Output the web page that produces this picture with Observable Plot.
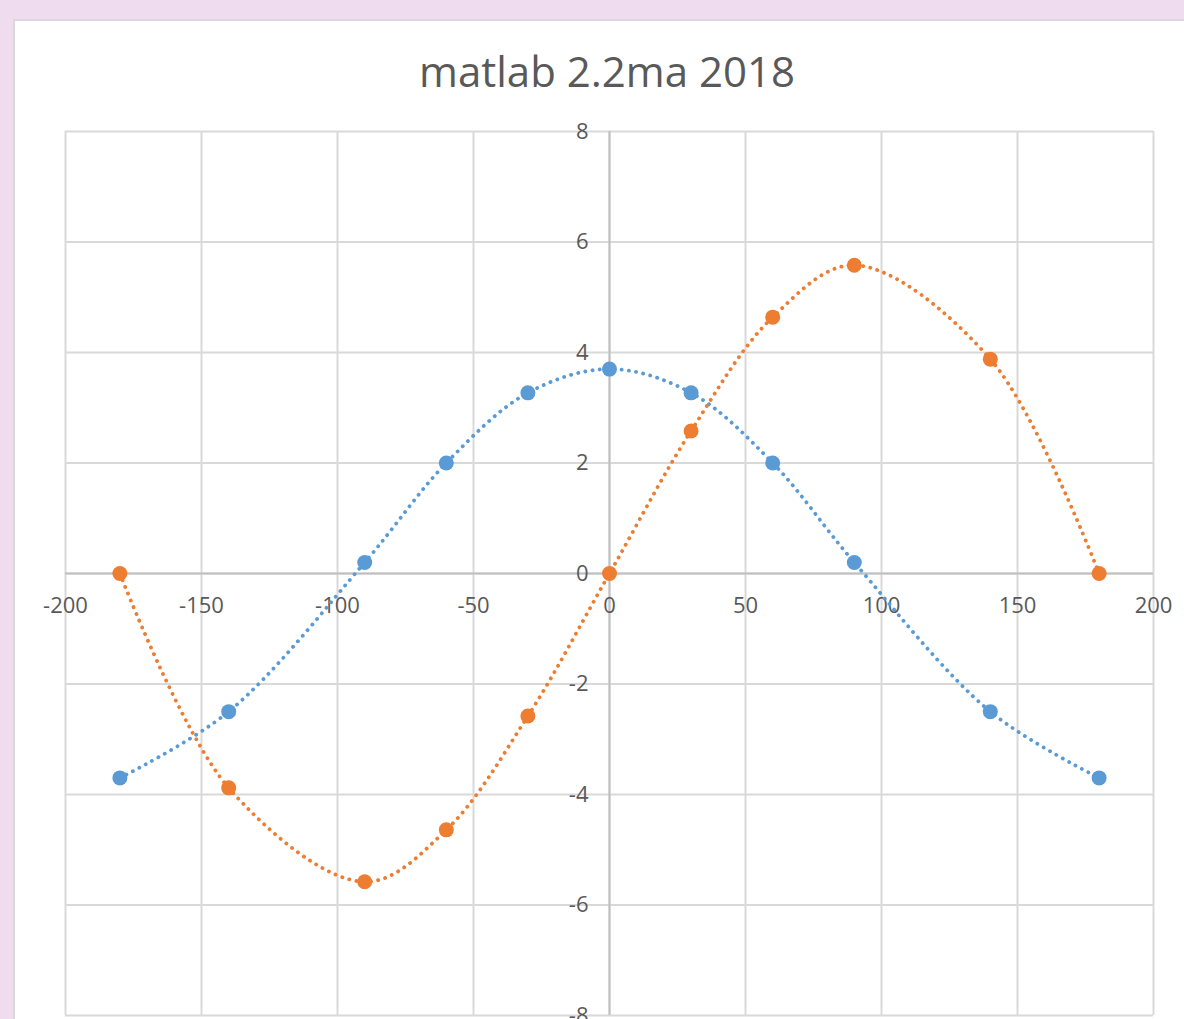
<!DOCTYPE html>
<html>
<head>
<meta charset="utf-8">
<script src="https://cdn.jsdelivr.net/npm/d3@7"></script>
<script src="https://cdn.jsdelivr.net/npm/@observablehq/plot@0.6"></script>
<style>
  html, body { margin: 0; padding: 0; background: #EFDCEE; width: 1184px; height: 1019px; overflow: hidden; }
  #card { position: absolute; left: 13px; top: 19px; width: 1300px; height: 1100px; background: #fff; border: 2px solid #D9D9D9; box-sizing: border-box; }
  #title { position: absolute; left: 0; width: 1214px; top: 50px; text-align: center; font-family: "Open Sans", sans-serif; font-size: 42px; line-height: 1; color: #595959; }
  #chart { position: absolute; left: 0; top: 0; }
</style>
</head>
<body>
<div id="card"></div>
<div id="title">matlab 2.2ma 2018</div>
<div id="chart"></div>
<script>
const xValues = [-180, -140, -90, -60, -30, 0, 30, 60, 90, 140, 180];
const blueValues = [-3.7, -2.5, 0.2, 2.0, 3.27, 3.7, 3.27, 2.0, 0.2, -2.5, -3.7];
const orangeValues = [0, -3.88, -5.58, -4.64, -2.58, 0, 2.58, 4.64, 5.58, 3.88, 0];
const xTicks = [-200, -150, -100, -50, 0, 50, 100, 150, 200];
const yTicks = [-8, -6, -4, -2, 0, 2, 4, 6, 8];

const blue = xValues.map((x, i) => ({x, y: blueValues[i]}));
const orange = xValues.map((x, i) => ({x, y: orangeValues[i]}));

const BLUE = "#5B9BD5", ORANGE = "#ED7D31";
const font = "Open Sans, sans-serif";

const chart = Plot.plot({
  width: 1184,
  height: 1019,
  marginLeft: 65,
  marginRight: 31,
  marginTop: 131,
  marginBottom: 4,
  style: {background: "transparent", fontFamily: font, overflow: "visible"},
  x: {domain: [-200, 200], axis: null},
  y: {domain: [-8, 8], axis: null},
  marks: [
    Plot.ruleX(xTicks, {x: d => d, stroke: "#D9D9D9", strokeWidth: 2}),
    Plot.ruleY(yTicks, {y: d => d, stroke: "#D9D9D9", strokeWidth: 2}),
    Plot.ruleX([0], {stroke: "#BFBFBF", strokeWidth: 2}),
    Plot.ruleY([0], {stroke: "#BFBFBF", strokeWidth: 2}),
    Plot.text(xTicks, {x: d => d, y: 0, dy: 32, text: d => String(d), fontSize: 22, fill: "#595959", textAnchor: "middle"}),
    Plot.text(yTicks, {x: 0, y: d => d, dx: -21, text: d => String(d), fontSize: 22, fill: "#595959", textAnchor: "end"}),
    Plot.line(blue, {x: "x", y: "y", curve: "catmull-rom", stroke: BLUE, strokeWidth: 3.8, strokeDasharray: "0.1 7.2", strokeLinecap: "round"}),
    Plot.dot(blue, {x: "x", y: "y", r: 7.5, fill: BLUE}),
    Plot.line(orange, {x: "x", y: "y", curve: "catmull-rom", stroke: ORANGE, strokeWidth: 3.8, strokeDasharray: "0.1 7.2", strokeLinecap: "round"}),
    Plot.dot(orange, {x: "x", y: "y", r: 7.5, fill: ORANGE})
  ]
});
document.getElementById("chart").appendChild(chart);
</script>
</body>
</html>
